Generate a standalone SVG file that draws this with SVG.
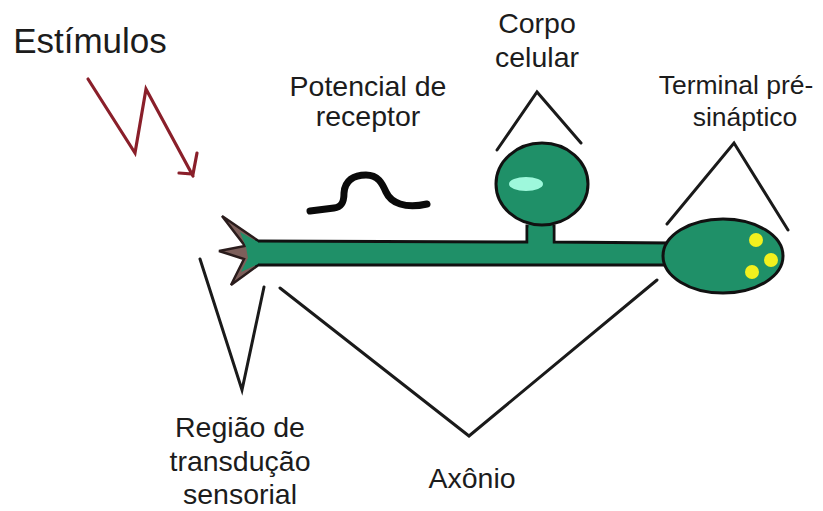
<svg xmlns="http://www.w3.org/2000/svg" width="823" height="511" viewBox="0 0 823 511">
  <style>
    text { font-family: "Liberation Sans", Arial, sans-serif; font-size: 28.5px; fill: #1c1c1c; text-anchor: middle; }
    .narrow { font-size: 26.500px; }
    .bracket { fill: none; stroke: #1a1a1a; stroke-width: 3; stroke-linecap: round; stroke-linejoin: miter; }
    .cell { fill: #1f9068; stroke: #111; stroke-width: 3; }
    .vesicle { fill: #f2f01e; }
  </style>
  <rect width="823" height="511" fill="#fff"/>

  <g id="stimulus">
    <path d="M88 79 L135 153 L146 89 L193 176 M179 173 L193 174 L197 153" fill="none" stroke="#8a1f2a" stroke-width="3.2" stroke-linecap="round" stroke-linejoin="miter"/>
    <text x="90" y="53" style="font-size:35px;">Estímulos</text>
  </g>

  <g id="receptor-potential">
    <path d="M310 211 L334 208 C343 207 344 200 344 193 C345 180 354 175 366 175 C378 175 382 183 386 192 C391 203 405 209 427 204" fill="none" stroke="#0a0a0a" stroke-width="7" stroke-linecap="round"/>
    <text x="368" y="96">Potencial de</text>
    <text x="368" y="126">receptor</text>
  </g>

  <g id="axon">
    <!-- spiny dendritic ending -->
    <path d="M222 216 L257 240 L257 266 L231 285 L244 259 L219 251 L245 246 Z" fill="#7d5f5b" stroke="#2a1c1c" stroke-width="2.500" stroke-linejoin="miter"/>
    <path class="cell" d="M255 241 L527 242 L527 226 L554 226 L554 242 L670 243 L670 265 L255 265" style="stroke-linejoin:miter;"/>
    <path d="M240 232 L258 242 L258 264 L241 272 L248 258 L246 247 Z" fill="#1f9068"/>
    <rect x="528.500" y="222" width="24" height="24" fill="#1f9068"/>
  </g>

  <g id="cell-body">
    <ellipse class="cell" cx="542" cy="184" rx="46" ry="41"/>
    <ellipse cx="526" cy="184" rx="17" ry="7" fill="#9ef8dc"/>
    <path class="bracket" d="M497 150 L537 92 L581 143"/>
    <text x="537" y="33">Corpo</text>
    <text x="537" y="67">celular</text>
  </g>

  <g id="presynaptic-terminal">
    <ellipse class="cell" cx="723" cy="256" rx="60" ry="37"/>
    <circle class="vesicle" cx="756" cy="240" r="7"/>
    <circle class="vesicle" cx="771" cy="260" r="7"/>
    <circle class="vesicle" cx="752" cy="272" r="7"/>
    <path class="bracket" d="M667 224 L734 143 L788 230"/>
    <text class="narrow" x="736" y="94">Terminal pré-</text>
    <text class="narrow" x="745" y="126">sináptico</text>
  </g>

  <g id="transduction-region">
    <path class="bracket" d="M200 259 L242 390 L264 287"/>
    <text x="240" y="437">Região de</text>
    <text x="240" y="471">transdução</text>
    <text x="240" y="504">sensorial</text>
  </g>

  <g id="axon-label">
    <path class="bracket" d="M280 288 L469 436 L657 280"/>
    <text x="472" y="488">Axônio</text>
  </g>
</svg>
